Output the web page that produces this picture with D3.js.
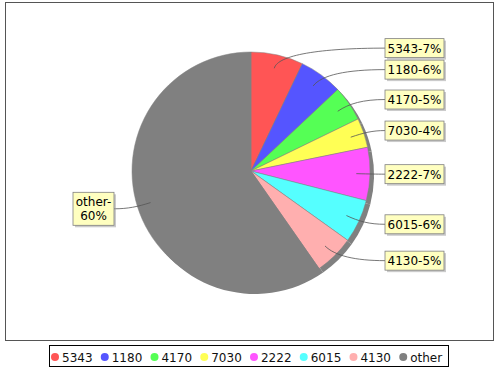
<!DOCTYPE html>
<html><head><meta charset="utf-8">
<script src="https://cdn.jsdelivr.net/npm/d3@7"></script>
<style>
html,body{margin:0;padding:0;background:#fff;}
svg{display:block;font-family:"DejaVu Sans",sans-serif;}
</style></head>
<body><svg id="chart" width="500" height="370"></svg>
<script>
const categories = ["5343","1180","4170","7030","2222","6015","4130","other"];
const values = [7.1, 5.9, 4.8, 4.0, 7.2, 5.9, 5.4, 59.7];
const labels = ["5343-7%","1180-6%","4170-5%","7030-4%","2222-7%","6015-6%","4130-5%",["other-","60%"]];
const colors = ["#FF5555","#5555FF","#55FF55","#FFFF55","#FF55FF","#55FFFF","#FFAFAF","#808080"];

const svg = d3.select("#chart");
const W = 500, H = 370;
svg.append("rect").attr("width",W).attr("height",H).attr("fill","#fff");
// plot border
svg.append("rect").attr("x",5.5).attr("y",2.5).attr("width",488).attr("height",338)
  .attr("fill","none").attr("stroke","#555").attr("stroke-width",1);

const cx = 251, cy = 171, r = 119;
const data = categories.map((c,i)=>({cat:c, value:values[i], color:colors[i], label:labels[i]}));
const pie = d3.pie().sort(null).value(d=>d.value).startAngle(0).endAngle(2*Math.PI);
const arcs = pie(data);
const arc = d3.arc().innerRadius(0).outerRadius(r);

const g = svg.append("g").attr("transform",`translate(${cx},${cy})`);
// shadow
g.append("g").attr("transform","translate(4,4)").selectAll("path").data(arcs).join("path")
  .attr("d",arc).attr("fill","#808080");
g.selectAll("path.slice").data(arcs).join("path").attr("class","slice")
  .attr("d",arc).attr("fill",d=>d.data.color).attr("stroke","#808080").attr("stroke-width",0.5);

// labels
const Rlab = 126, minGap = 21.5;
const recs = arcs.map(a=>{
  const mid = (a.startAngle+a.endAngle)/2;
  return {a, mid, right: Math.sin(mid) >= 0, y: cy - Math.cos(mid)*Rlab};
});
const rights = recs.filter(d=>d.right).sort((a,b)=>a.y-b.y);
for (let i=1;i<rights.length;i++) if (rights[i].y - rights[i-1].y < minGap) rights[i].y = rights[i-1].y + minGap;

const labelG = svg.append("g");
recs.forEach(rec=>{
  const lines = Array.isArray(rec.a.data.label) ? rec.a.data.label : [rec.a.data.label];
  const lh = 14;
  const tmp = labelG.append("g");
  const txt = tmp.append("text").attr("font-size",12).attr("text-anchor","middle");
  lines.forEach((l,i)=>txt.append("tspan").attr("x",0).attr("dy", i===0?0:lh).text(l));
  let w = 0;
  txt.selectAll("tspan").each(function(){ w = Math.max(w, this.getComputedTextLength()); });
  const bw = Math.round(w + 5), bh = lines.length*lh + 5;
  const bx = rec.right ? cx + r + 15 : cx - r - 18 - bw;
  const by = rec.y - bh/2;
  // link
  const sx = cx + Math.sin(rec.mid)*r*0.885, sy = cy - Math.cos(rec.mid)*r*0.885;
  const ex = cx + Math.sin(rec.mid)*r*1.0, ey = cy - Math.cos(rec.mid)*r*1.0;
  const tx = rec.right ? bx : bx + bw, ty = rec.y;
  const p = d3.path();
  p.moveTo(sx,sy);
  p.bezierCurveTo(ex,ey,ex+(tx-ex)*0.4,ty,tx,ty);
  labelG.insert("path",":first-child").attr("d",p.toString()).attr("fill","none")
    .attr("stroke","#555").attr("stroke-width",0.8);
  tmp.insert("rect","text").attr("x",bx+2).attr("y",by+2).attr("width",bw).attr("height",bh)
    .attr("fill","rgba(151,151,151,0.5)");
  tmp.insert("rect","text").attr("x",bx).attr("y",by).attr("width",bw).attr("height",bh)
    .attr("fill","#FFFFC0").attr("stroke","#808080").attr("stroke-width",0.8);
  txt.attr("transform",`translate(${bx+bw/2},${by+14})`);
});

// legend
const leg = svg.append("g");
const legBox = leg.append("rect").attr("fill","#fff").attr("stroke","#000").attr("stroke-width",1);
let x = 55;
const ly = 357;
data.forEach(d=>{
  leg.append("circle").attr("cx",x).attr("cy",ly).attr("r",4).attr("fill",d.color);
  const t = leg.append("text").attr("x",x+7).attr("y",ly+4.5).attr("font-size",12).attr("fill","#111").text(d.cat);
  const tw = t.node().getComputedTextLength();
  x += 7 + tw + 12.2;
});
legBox.attr("x",49.5).attr("y",345.5).attr("width",399).attr("height",21);
</script>
</body></html>
